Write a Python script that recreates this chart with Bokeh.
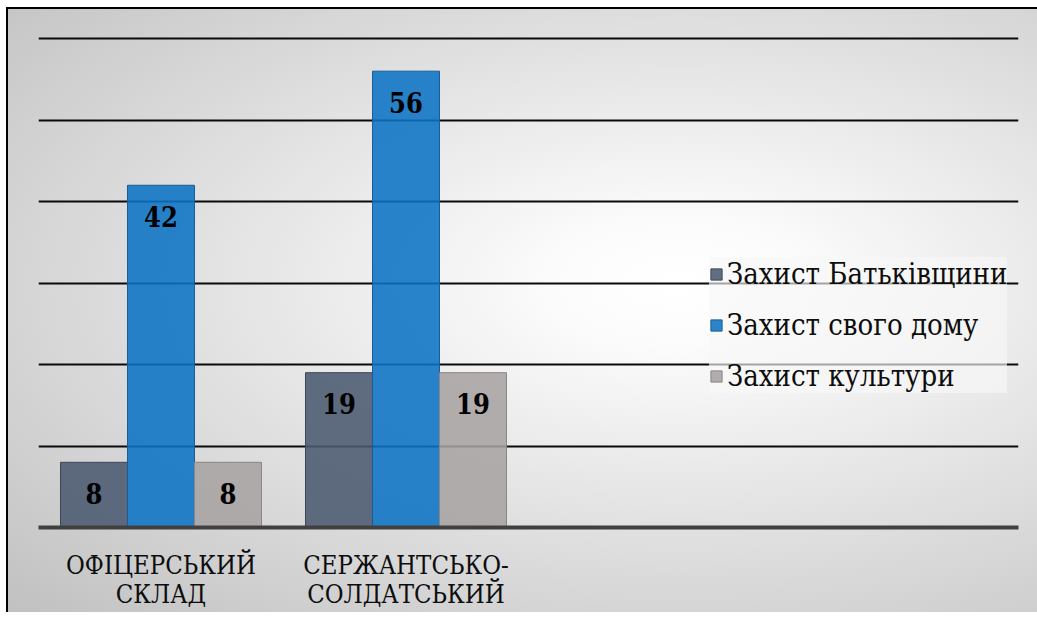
from bokeh.plotting import figure
from bokeh.models import FactorRange, Range1d, FixedTicker, ColumnDataSource
from bokeh.transform import dodge
from bokeh.core.properties import value
from bokeh.embed import file_html
from bokeh.resources import INLINE

# ---- data ----
categories = ["ОФІЦЕРСЬКИЙ\nСКЛАД", "СЕРЖАНТСЬКО-\nСОЛДАТСЬКИЙ"]
spare_slots = [" ", "  "]          # empty category slots on the right of the axis
series_names = ["Захист Батьківщини", "Захист свого дому", "Захист культури"]
batkivshchyna = [8, 19]
svii_dim = [42, 56]
kultura = [8, 19]
y_ticks = [0, 10, 20, 30, 40, 50, 60]

series_values = [batkivshchyna, svii_dim, kultura]
colors = ["#4b5a71", "#0c73c4", "#a7a3a2"]
outline = ["#3c4658", "#1d5c93", "#8a8686"]
bar_w = 0.2735
offsets = [-bar_w, 0.0, bar_w]

SERIF = "DejaVu Serif Condensed"

p = figure(
    x_range=FactorRange(factors=categories + spare_slots),
    y_range=Range1d(0, 60.5),
    width=1037, height=612,
    output_backend="svg", toolbar_location=None, tools="",
    min_border_left=38, min_border_right=19, min_border_top=34, min_border_bottom=85,
    background_fill_color=None, border_fill_color=None, outline_line_color=None,
)
p.styles = {
    "vertical-align": "top",
    "background":
        "linear-gradient(#000000, #000000) 6px 7px / 2px 100% no-repeat, "
        "linear-gradient(#000000, #000000) 6px 7px / 100% 2px no-repeat, "
        "radial-gradient(ellipse farthest-corner at 65% 45%, #ffffff 0%, #fcfcfc 12%, #c0c0c0 100%) 8px 9px / 1029px 610px no-repeat, "
        "#ffffff",
}

src = ColumnDataSource(dict(
    cat=categories,
    v0=series_values[0], v1=series_values[1], v2=series_values[2],
    t0=[str(v) for v in series_values[0]],
    t1=[str(v) for v in series_values[1]],
    t2=[str(v) for v in series_values[2]],
))

for i, name in enumerate(series_names):
    p.vbar(x=dodge("cat", offsets[i], range=p.x_range), top=f"v{i}", width=bar_w, source=src,
           fill_color=colors[i], fill_alpha=0.88, line_color=outline[i], line_width=1,
           legend_label=name)
for i in range(3):
    p.text(x=dodge("cat", offsets[i], range=p.x_range), y=f"v{i}", text=f"t{i}", source=src,
           text_font=value(SERIF), text_font_style="bold", text_font_size="27px",
           text_color="#000000", text_align="center", text_baseline="middle", y_offset=31)

# grid
p.xgrid.visible = False
p.ygrid.ticker = FixedTicker(ticks=y_ticks)
p.ygrid.grid_line_color = "#0a0a0a"
p.ygrid.grid_line_width = 2

# axes
p.yaxis.visible = False
p.yaxis.ticker = FixedTicker(ticks=y_ticks)
xa = p.xaxis[0]
xa.axis_line_color = "#404040"
xa.axis_line_width = 4
xa.major_tick_line_color = None
xa.minor_tick_line_color = None
xa.major_label_standoff = 16
xa.major_label_text_font = SERIF
xa.major_label_text_font_size = "25.5px"
xa.major_label_text_line_height = 0.97
xa.major_label_text_color = "#0d0d0d"
xa.major_label_orientation = "horizontal"

# legend
lg = p.legend[0]
lg.location = (671, 134)
lg.label_text_font = SERIF
lg.label_text_font_size = "29px"
lg.label_text_color = "#0d0d0d"
lg.glyph_width = 14
lg.glyph_height = 14
lg.label_standoff = 4
lg.padding = 18
lg.spacing = 17
lg.margin = 0
lg.background_fill_color = "#f7f7f7"
lg.background_fill_alpha = 0.65
lg.border_line_color = None

open("out.html", "w").write(file_html(p, INLINE))
